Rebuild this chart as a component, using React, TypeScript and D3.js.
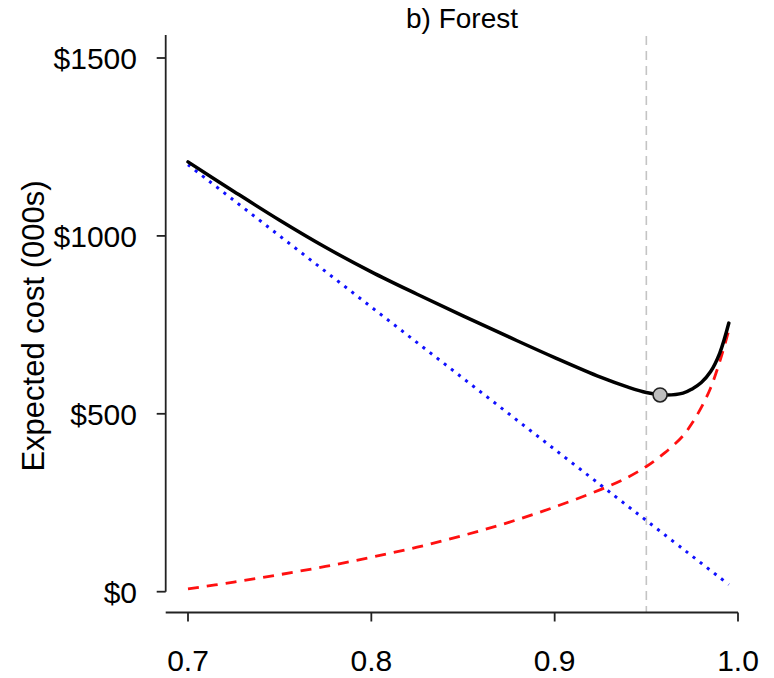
import React, { useEffect, useRef } from 'react';
import * as d3 from 'd3';

// detection probability (x) and cost components, $000s
const probs = [0.7, 0.725, 0.75, 0.775, 0.8, 0.825, 0.85, 0.875, 0.9, 0.925, 0.94, 0.95, 0.96, 0.97, 0.975, 0.98, 0.985, 0.99, 0.995];
const totalCost = [1208, 1125, 1044, 968, 899, 836, 775, 716, 658, 603, 575, 560, 553, 558, 570, 588, 618, 670, 755];
const surveyCost = [8, 27, 48, 71, 97, 125, 158, 195, 238, 287, 322, 352, 390, 438, 474, 518, 572, 646, 735];
const damageCost = [1200, 1100, 1000, 900, 800, 700, 600, 500, 400, 300, 240, 200, 160, 120, 100, 80, 60, 40, 20];

const optimum = { p: 0.9575, cost: 553 };
const targetLine = 0.95;

const xTicks = [0.7, 0.8, 0.9, 1.0];
const yTicks = [0, 500, 1000, 1500];

const App = () => {
  const svgRef = useRef<SVGSVGElement>(null);

  useEffect(() => {
    const svg = d3.select(svgRef.current);
    svg.selectAll('*').remove();

    const font = 'Liberation Sans, Arial, sans-serif';

    const x = d3.scaleLinear().domain([0.7, 1.0]).range([188, 738]);
    const y = d3.scaleLinear().domain([0, 1500]).range([591.7, 58]);

    const axisY = 612.5;
    const axisX = 165.7;

    // vertical reference line
    svg.append('line')
      .attr('x1', x(targetLine)).attr('x2', x(targetLine))
      .attr('y1', 36).attr('y2', axisY)
      .attr('stroke', '#c4c4c4')
      .attr('stroke-width', 1.6)
      .attr('stroke-dasharray', '9,6');

    const line = (vals: number[]) => d3.line<number>()
      .x((_, i) => x(probs[i]))
      .y(d => y(d))
      .curve(d3.curveCatmullRom.alpha(0.5))(vals);

    // damage cost (blue dotted)
    svg.append('path')
      .attr('d', line(damageCost))
      .attr('fill', 'none')
      .attr('stroke', '#1010ff')
      .attr('stroke-width', 3)
      .attr('stroke-dasharray', '3,6');

    // survey cost (red dashed)
    svg.append('path')
      .attr('d', line(surveyCost))
      .attr('fill', 'none')
      .attr('stroke', '#ff1010')
      .attr('stroke-width', 2.8)
      .attr('stroke-dasharray', '11,8');

    // total expected cost
    svg.append('path')
      .attr('d', line(totalCost))
      .attr('fill', 'none')
      .attr('stroke', '#000')
      .attr('stroke-width', 3.5)
      .attr('stroke-linecap', 'round');

    svg.append('circle')
      .attr('cx', x(optimum.p))
      .attr('cy', y(optimum.cost))
      .attr('r', 7)
      .attr('fill', '#bebebe')
      .attr('stroke', '#222')
      .attr('stroke-width', 1.6);

    // y axis
    const yAxis = svg.append('g');
    yAxis.append('line')
      .attr('x1', axisX).attr('x2', axisX)
      .attr('y1', 35).attr('y2', y(0))
      .attr('stroke', '#222').attr('stroke-width', 1.8);
    yAxis.selectAll('line.tick')
      .data(yTicks)
      .enter().append('line')
      .attr('class', 'tick')
      .attr('x1', axisX - 9).attr('x2', axisX)
      .attr('y1', d => y(d)).attr('y2', d => y(d))
      .attr('stroke', '#222').attr('stroke-width', 1.8);
    yAxis.selectAll('text')
      .data(yTicks)
      .enter().append('text')
      .attr('x', 137)
      .attr('y', d => y(d))
      .attr('dy', '0.36em')
      .attr('text-anchor', 'end')
      .style('font-family', font)
      .style('font-size', '30px')
      .text(d => `$${d}`);

    // x axis
    const xAxis = svg.append('g');
    xAxis.append('line')
      .attr('x1', axisX).attr('x2', x(1.0))
      .attr('y1', axisY).attr('y2', axisY)
      .attr('stroke', '#222').attr('stroke-width', 1.8);
    xAxis.selectAll('line.tick')
      .data(xTicks)
      .enter().append('line')
      .attr('class', 'tick')
      .attr('x1', d => x(d)).attr('x2', d => x(d))
      .attr('y1', axisY).attr('y2', axisY + 9)
      .attr('stroke', '#222').attr('stroke-width', 1.8);
    xAxis.selectAll('text')
      .data(xTicks)
      .enter().append('text')
      .attr('x', d => x(d))
      .attr('y', 671)
      .attr('text-anchor', 'middle')
      .style('font-family', font)
      .style('font-size', '30px')
      .text(d => d.toFixed(1));

    // y label
    svg.append('text')
      .attr('transform', 'translate(44,326) rotate(-90)')
      .attr('text-anchor', 'middle')
      .style('font-family', font)
      .style('font-size', '31px')
      .text('Expected cost (000s)');

    // title
    svg.append('text')
      .attr('x', 462)
      .attr('y', 28)
      .attr('text-anchor', 'middle')
      .style('font-family', font)
      .style('font-size', '28px')
      .text('b) Forest');
  }, []);

  return (
    <svg ref={svgRef} width="774" height="678" style={{ position: 'absolute', left: 0, top: 0, background: '#fff' }}></svg>
  );
};

export default App;
